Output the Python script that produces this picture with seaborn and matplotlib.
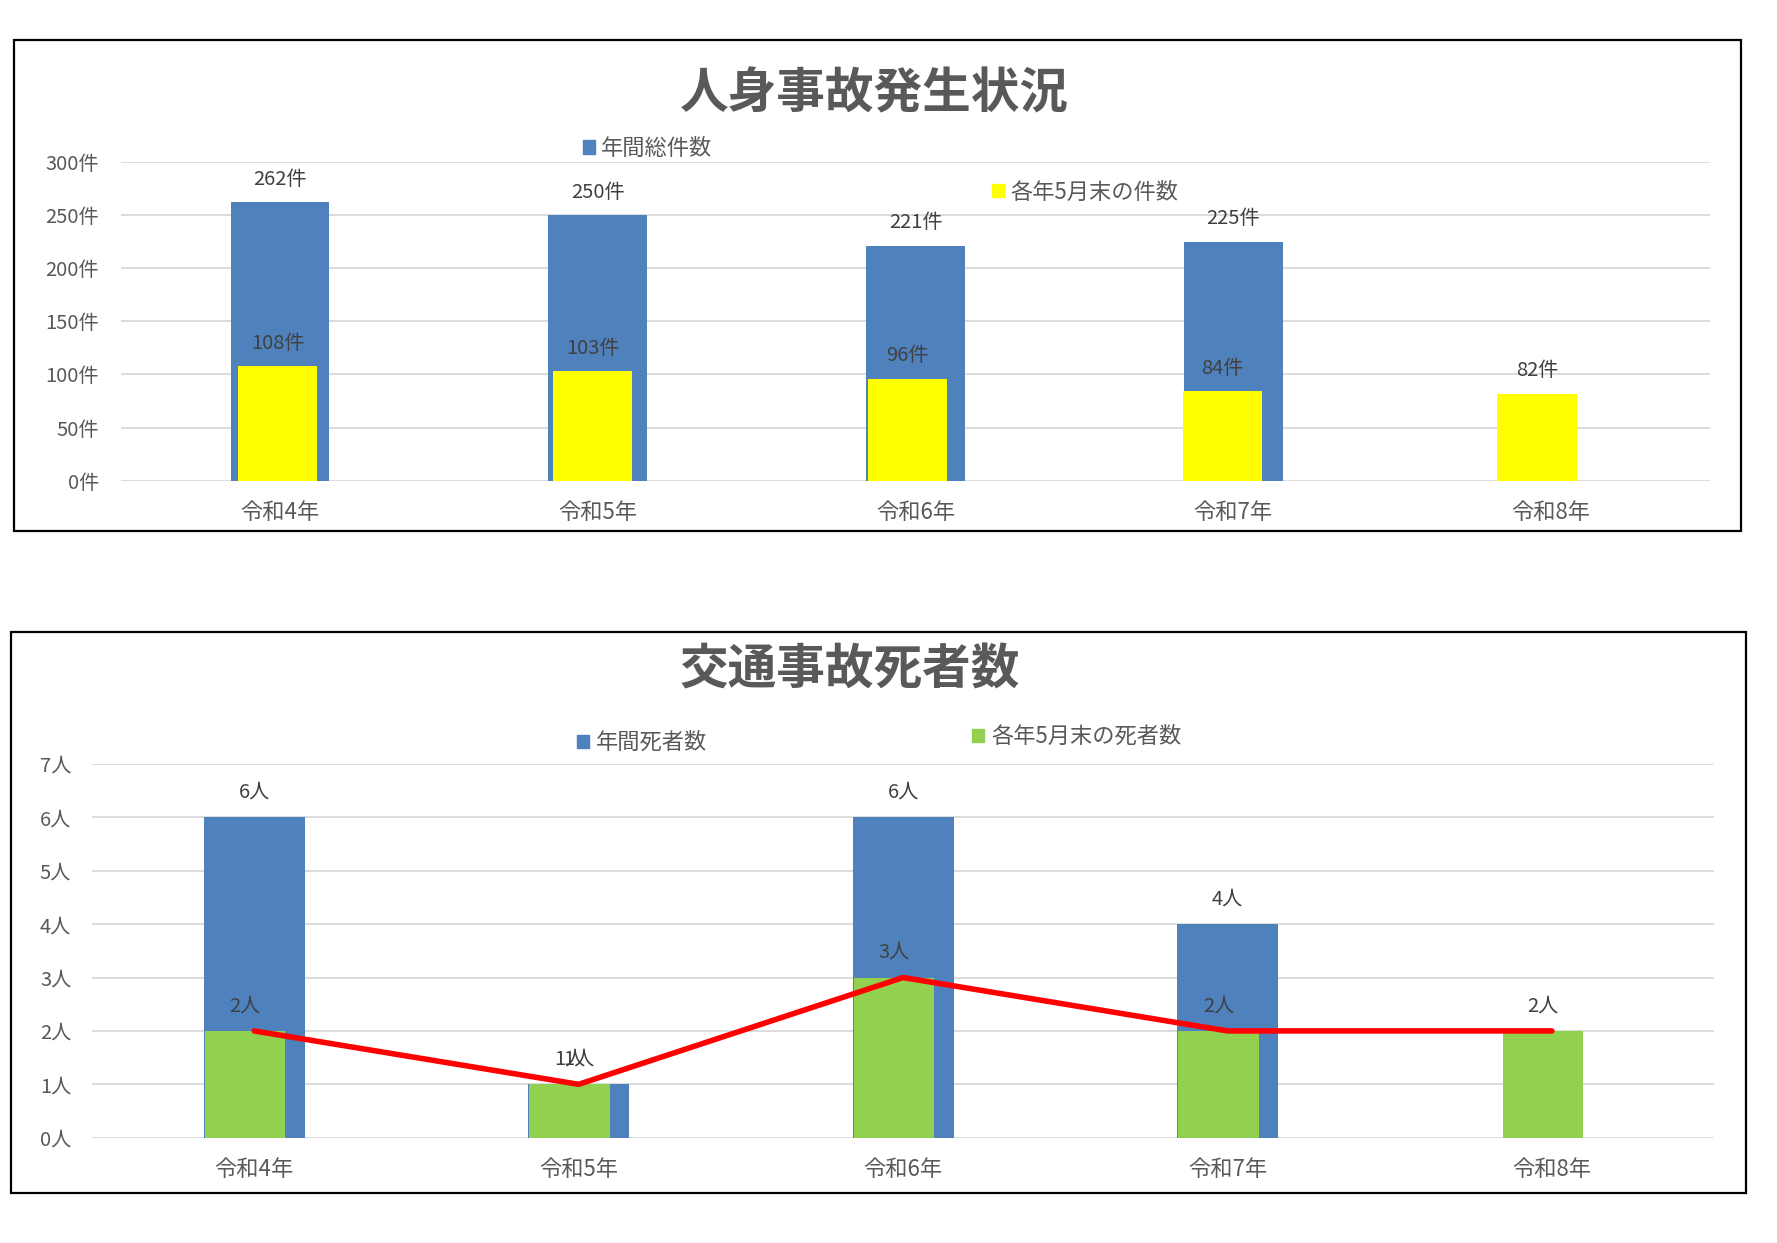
import numpy as np
import pandas as pd
import matplotlib
matplotlib.use('Agg')
import matplotlib.pyplot as plt
from matplotlib.patches import Patch, Rectangle
import seaborn as sns

# データ
years = ['令和4年', '令和5年', '令和6年', '令和7年', '令和8年']
accident_total = [262, 250, 221, 225, np.nan]   # 年間総件数
accident_may = [108, 103, 96, 84, 82]          # 各年5月末の件数
death_total = [6, 1, 6, 4, np.nan]             # 年間死者数
death_may = [2, 1, 3, 2, 2]                    # 各年5月末の死者数

BLUE = '#4F81BD'
YELLOW = '#FFFF00'
GREEN = '#92D050'
GRID = '#D9D9D9'
TXT = '#595959'
LBL = '#404040'

sns.set_style('white')
plt.rcParams['font.family'] = ['Noto Sans CJK JP', 'DejaVu Sans']

df1 = pd.DataFrame({'年': years, '年間総件数': accident_total, '各年5月末の件数': accident_may})
df2 = pd.DataFrame({'年': years, '年間死者数': death_total, '各年5月末の死者数': death_may})

fig = plt.figure(figsize=(17.77, 12.43), dpi=100)


def style_axis(ax, ymax, step, unit, ypad):
    ax.set_ylim(0, ymax)
    ax.set_xlim(-0.5, len(years) - 0.5)
    ticks = list(range(0, ymax + 1, step))
    ax.set_yticks(ticks)
    ax.set_yticklabels([f'{t}{unit}' for t in ticks])
    ax.yaxis.grid(True, color=GRID, lw=1.3)
    ax.set_axisbelow(True)
    ax.tick_params(axis='y', length=0, pad=ypad, labelsize=14.5, labelcolor=TXT)
    ax.tick_params(axis='x', length=0, pad=14.5, labelsize=16, labelcolor=TXT)
    ax.set_xlabel('')
    ax.set_ylabel('')
    for s in ax.spines.values():
        s.set_visible(False)


def clean_twin(ax, xlim):
    ax.set_xlim(*xlim)
    ax.set_xticks([])
    ax.set_xlabel('')
    ax.set_ylabel('')
    for s in ax.spines.values():
        s.set_visible(False)


bar_kw = dict(saturation=1, errorbar=None, linewidth=0)

# ---- 人身事故発生状況 ----
ax1 = fig.add_axes([0.0681, 0.6133, 0.8942, 0.2564])
sns.barplot(data=df1, x='年', y='年間総件数', order=years, color=BLUE, width=0.31,
            ax=ax1, **bar_kw)
style_axis(ax1, 300, 50, '件', 16)

ax1b = ax1.twiny()
sns.barplot(data=df1, x='年', y='各年5月末の件数', order=years, color=YELLOW, width=0.252,
            ax=ax1b, **bar_kw)
clean_twin(ax1b, (-0.498, 4.549))

for i, v in enumerate(accident_total):
    if not np.isnan(v):
        ax1.annotate(f'{int(v)}件', (i, v), xytext=(0, 16.5), textcoords='offset points',
                     ha='center', va='center', fontsize=14.5, color=LBL)
for i, v in enumerate(accident_may):
    ax1b.annotate(f'{v}件', (i, v), xytext=(0, 16.5), textcoords='offset points',
                  ha='center', va='center', fontsize=14.5, color=LBL)

fig.text(0.492, 0.9245, '人身事故発生状況', ha='center', va='center', fontsize=35,
         fontweight='bold', color=TXT)

# ---- 交通事故死者数 ----
ax2 = fig.add_axes([0.0518, 0.0847, 0.9128, 0.3007])
sns.barplot(data=df2, x='年', y='年間死者数', order=years, color=BLUE, width=0.311,
            ax=ax2, **bar_kw)
style_axis(ax2, 7, 1, '人', 15)

ax2b = ax2.twiny()
sns.barplot(data=df2, x='年', y='各年5月末の死者数', order=years, color=GREEN, width=0.248,
            ax=ax2b, **bar_kw)
clean_twin(ax2b, (-0.472, 4.528))

ax2c = ax2.twiny()
sns.lineplot(data=df2, x='年', y='各年5月末の死者数', color='#FF0000', lw=4,
             solid_capstyle='round', ax=ax2c, legend=False)
clean_twin(ax2c, (-0.5, 4.5))

for i, v in enumerate(death_total):
    if not np.isnan(v):
        ax2.annotate(f'{int(v)}人', (i, v), xytext=(0, 18), textcoords='offset points',
                     ha='center', va='center', fontsize=14.5, color=LBL)
for i, v in enumerate(death_may):
    ax2b.annotate(f'{v}人', (i, v), xytext=(0, 18), textcoords='offset points',
                  ha='center', va='center', fontsize=14.5, color=LBL)

fig.text(0.4783, 0.461, '交通事故死者数', ha='center', va='center', fontsize=35,
         fontweight='bold', color=TXT)

# ---- 凡例 ----
leg_kw = dict(loc='center left', frameon=False, fontsize=16, handlelength=0.55,
              handleheight=0.55, handletextpad=0.3, borderpad=0, borderaxespad=0,
              labelcolor=TXT)
fig.legend(handles=[Patch(color=BLUE, label='年間総件数')], bbox_to_anchor=(0.3278, 0.8805), **leg_kw)
fig.legend(handles=[Patch(color=YELLOW, label='各年5月末の件数')], bbox_to_anchor=(0.5582, 0.8455), **leg_kw)
fig.legend(handles=[Patch(color=BLUE, label='年間死者数')], bbox_to_anchor=(0.3247, 0.4026), **leg_kw)
fig.legend(handles=[Patch(color=GREEN, label='各年5月末の死者数')], bbox_to_anchor=(0.5470, 0.4073), **leg_kw)

# ---- 枠線 ----
fig.patches.append(Rectangle((0.0079, 0.5731), 0.9719, 0.3948, transform=fig.transFigure,
                             fill=False, edgecolor='black', lw=1.6))
fig.patches.append(Rectangle((0.0062, 0.0405), 0.9764, 0.4511, transform=fig.transFigure,
                             fill=False, edgecolor='black', lw=1.6))

fig.savefig('out.png', dpi=100)
